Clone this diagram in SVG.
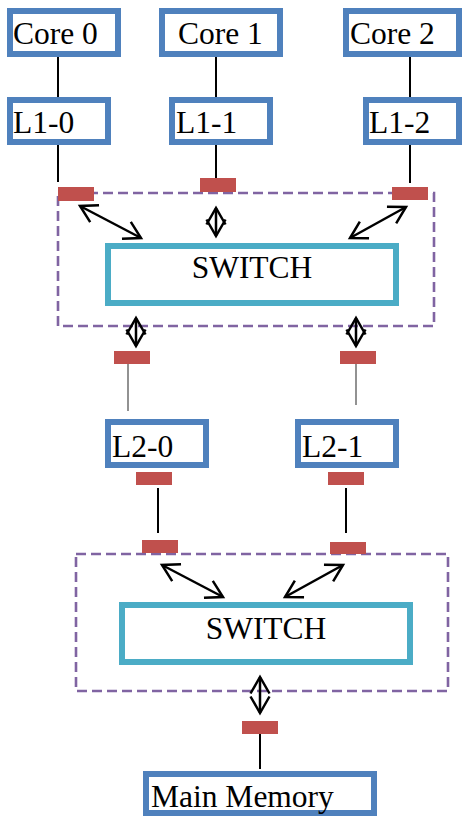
<svg xmlns="http://www.w3.org/2000/svg" width="463" height="816" viewBox="0 0 463 816">
  <style>
    .box { fill: #ffffff; stroke: #4F81BD; stroke-width: 6; }
    .sw { fill: #ffffff; stroke: #4BACC6; stroke-width: 6; }
    .grp { fill: none; stroke: #8064A2; stroke-width: 2.6; stroke-dasharray: 10 5; }
    .port { fill: #C0504D; }
    .lbl { font-family: "Liberation Serif", "Times New Roman", serif; font-size: 31.5px; fill: #000000; }
    .wire { stroke: #000000; stroke-width: 2; fill: none; }
    .thin { stroke: #6e6e6e; stroke-width: 1.5; fill: none; }
    .link { stroke: #000000; stroke-width: 2.5; fill: none; marker-start: url(#head); marker-end: url(#head); }
  </style>
  <defs>
    <marker id="head" markerUnits="userSpaceOnUse" markerWidth="40" markerHeight="40" refX="0" refY="0" viewBox="-20 -20 40 40" orient="auto-start-reverse" overflow="visible">
      <path d="M-16.5,-9.5 L0,0 L-16.5,9.5" fill="none" stroke="#000000" stroke-width="2.5"/>
    </marker>
  </defs>

  <rect width="463" height="816" fill="#ffffff"/>

  <!-- switch group outlines -->
  <g id="switch-group-1"><rect class="grp" x="58" y="193" width="376" height="133"/></g>
  <g id="switch-group-2"><rect class="grp" x="76" y="554" width="372" height="137"/></g>

  <!-- connectors -->
  <g id="connectors">
    <line class="wire" x1="58" y1="57" x2="58" y2="97"/>
    <line class="wire" x1="216" y1="57" x2="216" y2="97"/>
    <line class="wire" x1="410" y1="57" x2="410" y2="97"/>
    <line class="wire" x1="58" y1="145" x2="58" y2="182"/>
    <line class="wire" x1="216" y1="145" x2="216" y2="178"/>
    <line class="wire" x1="410" y1="145" x2="410" y2="183"/>
    <line class="link" x1="80" y1="206" x2="141" y2="238"/>
    <line class="link" x1="216" y1="208" x2="216" y2="236"/>
    <line class="link" x1="406" y1="207" x2="350" y2="238"/>
    <line class="link" x1="136" y1="318" x2="136" y2="346"/>
    <line class="link" x1="356" y1="318" x2="356" y2="346"/>
    <line class="thin" x1="128" y1="364" x2="128" y2="411"/>
    <line class="thin" x1="356" y1="364" x2="356" y2="405"/>
    <line class="wire" x1="158" y1="488" x2="158" y2="533"/>
    <line class="wire" x1="346" y1="488" x2="346" y2="533"/>
    <line class="link" x1="162" y1="565" x2="223" y2="597"/>
    <line class="link" x1="343" y1="565" x2="285" y2="597"/>
    <line class="link" x1="260" y1="677" x2="260" y2="713"/>
    <line class="wire" x1="260" y1="734" x2="260" y2="769"/>
  </g>

  <!-- ports -->
  <g id="ports">
    <rect class="port" x="58" y="187" width="36" height="14"/>
    <rect class="port" x="200" y="178" width="36" height="14"/>
    <rect class="port" x="392" y="187" width="36" height="13"/>
    <rect class="port" x="114" y="351" width="36" height="13"/>
    <rect class="port" x="340" y="351" width="36" height="13"/>
    <rect class="port" x="136" y="472" width="36" height="13"/>
    <rect class="port" x="328" y="472" width="36" height="13"/>
    <rect class="port" x="142" y="540" width="36" height="13"/>
    <rect class="port" x="330" y="542" width="36" height="12"/>
    <rect class="port" x="242" y="721" width="36" height="13"/>
  </g>

  <g id="core0"><rect class="box" x="10" y="11" width="108" height="43"/><text class="lbl" x="13" y="44">Core 0</text></g>
  <g id="core1"><rect class="box" x="162" y="11" width="118" height="43"/><text class="lbl" x="178" y="44">Core 1</text></g>
  <g id="core2"><rect class="box" x="346" y="11" width="113" height="43"/><text class="lbl" x="350" y="44">Core 2</text></g>

  <g id="l1-0"><rect class="box" x="10" y="100" width="98" height="42"/><text class="lbl" x="13" y="133">L1-0</text></g>
  <g id="l1-1"><rect class="box" x="172" y="100" width="98" height="42"/><text class="lbl" x="176" y="133">L1-1</text></g>
  <g id="l1-2"><rect class="box" x="366" y="100" width="93" height="42"/><text class="lbl" x="369" y="133">L1-2</text></g>

  <g id="switch1"><rect class="sw" x="108" y="246" width="288" height="57"/><text class="lbl" x="252" y="278" text-anchor="middle">SWITCH</text></g>

  <g id="l2-0"><rect class="box" x="108" y="422" width="98" height="43"/><text class="lbl" x="112" y="457">L2-0</text></g>
  <g id="l2-1"><rect class="box" x="298" y="422" width="98" height="43"/><text class="lbl" x="302" y="457">L2-1</text></g>

  <g id="switch2"><rect class="sw" x="122" y="605" width="288" height="57"/><text class="lbl" x="266" y="639" text-anchor="middle">SWITCH</text></g>

  <g id="main-memory"><rect class="box" x="146" y="774" width="228" height="39"/><text class="lbl" x="151" y="807">Main Memory</text></g>
</svg>
